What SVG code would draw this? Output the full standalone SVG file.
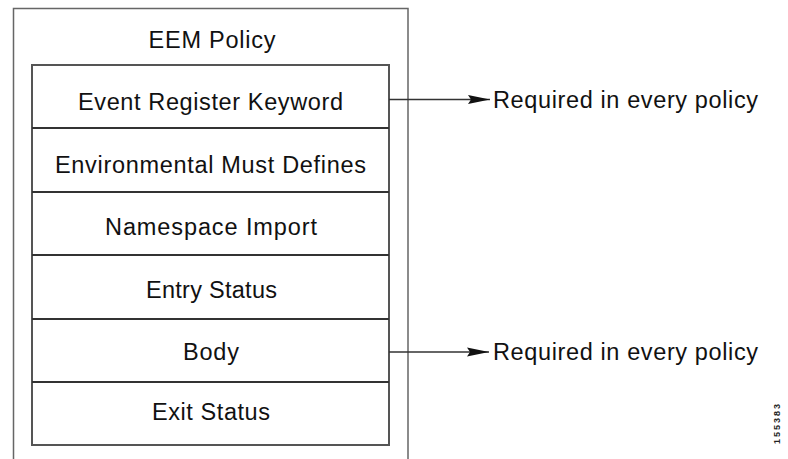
<svg xmlns="http://www.w3.org/2000/svg" width="788" height="459" viewBox="0 0 788 459">
<style>
.t{font-family:"Liberation Sans",Arial,sans-serif;font-size:23.5px;fill:#111;text-anchor:middle}
.r{font-family:"Liberation Sans",Arial,sans-serif;font-size:23.5px;fill:#111}
.box{fill:none;stroke:#555;stroke-width:2}
.div{stroke:#333;stroke-width:2}
.con{stroke:#333;stroke-width:1.3;fill:none}
</style>
<defs>
<marker id="ah" markerWidth="24" markerHeight="10" refX="22" refY="5" orient="auto" markerUnits="userSpaceOnUse">
<path d="M0,0.5 L22,5 L0,9.5 L3,5 Z" fill="#111"/>
</marker>
</defs>
<rect width="788" height="459" fill="#fff"/>
<g id="outer">
<path d="M13.5,470 V8.5 H408 V470" fill="none" stroke="#666" stroke-width="1.5"/>
<text class="t" x="212" y="48" textLength="127" lengthAdjust="spacing">EEM Policy</text>
</g>
<g id="stack">
<rect class="box" x="32" y="65" width="357" height="380"/>
</g>
<g id="n1">
<text class="t" x="210.5" y="110" textLength="265" lengthAdjust="spacing">Event Register Keyword</text>
<line class="div" x1="32" y1="128" x2="389" y2="128"/>
</g>
<g id="n2">
<text class="t" x="210.5" y="173" textLength="311" lengthAdjust="spacing">Environmental Must Defines</text>
<line class="div" x1="32" y1="192" x2="389" y2="192"/>
</g>
<g id="n3">
<text class="t" x="211" y="235" textLength="212" lengthAdjust="spacing">Namespace Import</text>
<line class="div" x1="32" y1="255" x2="389" y2="255"/>
</g>
<g id="n4">
<text class="t" x="211.5" y="298" textLength="131" lengthAdjust="spacing">Entry Status</text>
<line class="div" x1="32" y1="319" x2="389" y2="319"/>
</g>
<g id="n5">
<text class="t" x="211" y="360" textLength="56" lengthAdjust="spacing">Body</text>
<line class="div" x1="32" y1="382" x2="389" y2="382"/>
</g>
<g id="n6">
<text class="t" x="211" y="420" textLength="118" lengthAdjust="spacing">Exit Status</text>
</g>
<g id="connectors">
<line class="con" x1="389" y1="99.5" x2="490" y2="99.5" marker-end="url(#ah)"/>
<line class="con" x1="389" y1="352" x2="489" y2="352" marker-end="url(#ah)"/>
</g>
<g id="labels">
<text class="r" x="493" y="108" textLength="265" lengthAdjust="spacing">Required in every policy</text>
<text class="r" x="493" y="360" textLength="265" lengthAdjust="spacing">Required in every policy</text>
<text font-family="'Liberation Sans',Arial,sans-serif" font-size="9" font-weight="bold" fill="#222" transform="translate(780,444) rotate(-90)" textLength="40" lengthAdjust="spacing">155383</text>
</g>
</svg>
